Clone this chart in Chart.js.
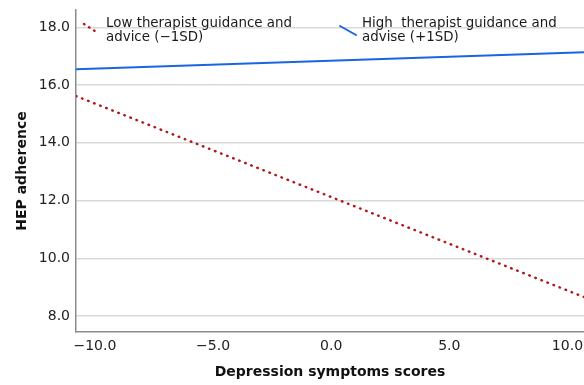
<!DOCTYPE html>
<html>
<head>
<meta charset="utf-8">
<script src="https://cdn.jsdelivr.net/npm/chart.js@4"></script>
<style>
  html, body { margin: 0; padding: 0; background: #fff; overflow: hidden; }
  #wrap { width: 584px; height: 385px; }
</style>
</head>
<body>
<div id="wrap"><canvas id="c"></canvas></div>
<script>
// ---- data ----
const xEnds = [-10.8, 10.7];
const lowGuidance = [15.62, 8.66];   // -1SD
const highGuidance = [16.55, 17.14]; // +1SD
const xTicks = [-10, -5, 0, 5, 10];
const yTicks = [8, 10, 12, 14, 16, 18];
const legendLow = ['Low therapist guidance and', 'advice (\u22121SD)'];
const legendHigh = ['High  therapist guidance and', 'advise (+1SD)'];

const RED = '#b3191c';
const BLUE = '#1a66e0';
const FONT = '"DejaVu Sans", sans-serif';

const pts = ys => xEnds.map((x, i) => ({ x, y: ys[i] }));

// legend drawn inside the plot, like the SPSS output
const insideLegend = {
  id: 'insideLegend',
  afterDraw(chart) {
    const ctx = chart.ctx;
    ctx.save();
    ctx.lineCap = 'round';
    // low: dotted red
    ctx.strokeStyle = RED; ctx.lineWidth = 2.5; ctx.setLineDash([0.5, 5.5]);
    ctx.beginPath(); ctx.moveTo(84, 24); ctx.lineTo(98, 33); ctx.stroke();
    // high: solid blue
    ctx.setLineDash([]); ctx.strokeStyle = BLUE; ctx.lineWidth = 2;
    ctx.beginPath(); ctx.moveTo(340, 26); ctx.lineTo(356, 35); ctx.stroke();
    ctx.fillStyle = '#1a1a1a';
    ctx.font = '13.4px ' + FONT;
    ctx.textBaseline = 'middle';
    legendLow.forEach((t, i) => ctx.fillText(t, 106, 24 + i * 14));
    legendHigh.forEach((t, i) => ctx.fillText(t, 362, 24 + i * 14));
    ctx.restore();
  }
};

new Chart(document.getElementById('c'), {
  type: 'scatter',
  data: {
    datasets: [
      { label: legendLow.join(' '), data: pts(lowGuidance), showLine: true, borderColor: RED,
        borderWidth: 2.5, borderDash: [0.5, 6], borderCapStyle: 'round', pointRadius: 0 },
      { label: legendHigh.join(' '), data: pts(highGuidance), showLine: true, borderColor: BLUE,
        borderWidth: 2, pointRadius: 0 }
    ]
  },
  options: {
    responsive: true,
    maintainAspectRatio: false,
    animation: false,
    layout: { padding: { top: 10, right: 0, bottom: 0, left: 0 } },
    plugins: { legend: { display: false }, tooltip: { enabled: false } },
    scales: {
      x: {
        type: 'linear', min: xEnds[0], max: xEnds[1],
        afterBuildTicks: s => { s.ticks = xTicks.map(v => ({ value: v })); },
        afterFit: s => { s.height = 53; s.paddingLeft = 0; s.paddingRight = 0; },
        grid: { display: false, drawTicks: false },
        border: { color: '#8c8c8c', width: 1.5 },
        ticks: { padding: 6, color: '#222', font: { family: FONT, size: 14 },
                 maxRotation: 0, callback: v => v.toFixed(1).replace('-', '\u2212') },
        title: { display: true, text: 'Depression symptoms scores', color: '#111',
                 font: { family: FONT, size: 14, weight: 'bold' }, padding: { top: 0, bottom: 4 } }
      },
      y: {
        min: 7.45, max: 18.6,
        afterBuildTicks: s => { s.ticks = yTicks.map(v => ({ value: v })); },
        afterFit: s => { s.width = 76; s.paddingTop = 0; s.paddingBottom = 0; },
        grid: { color: '#d9d9d9', lineWidth: 1.5, drawTicks: false },
        border: { color: '#8c8c8c', width: 1.5 },
        ticks: { padding: 6, color: '#222', font: { family: FONT, size: 14 },
                 callback: v => v.toFixed(1) },
        title: { display: true, text: 'HEP adherence', color: '#111',
                 font: { family: FONT, size: 14, weight: 'bold' }, padding: { top: 14, bottom: 0 } }
      }
    }
  },
  plugins: [insideLegend]
});
</script>
</body>
</html>
